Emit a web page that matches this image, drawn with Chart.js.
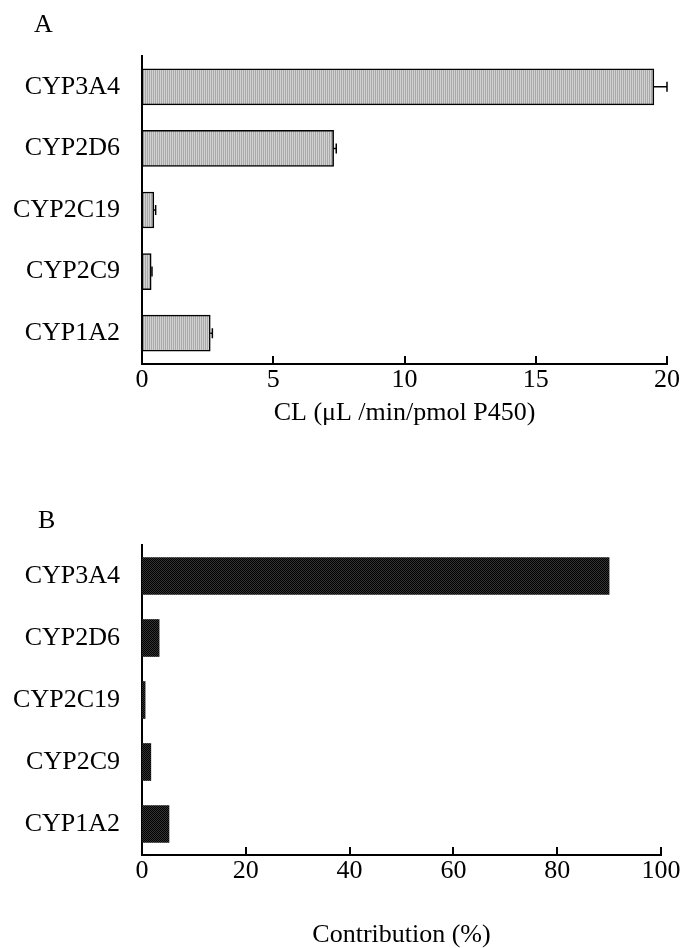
<!DOCTYPE html>
<html>
<head>
<meta charset="utf-8">
<script src="https://cdn.jsdelivr.net/npm/chart.js@4/dist/chart.umd.min.js"></script>
<style>
  html, body { margin: 0; padding: 0; background: #fff; }
  #wrap { position: relative; width: 683px; height: 948px; }
  .panel { position: absolute; left: 0; width: 683px; height: 474px; }
  .letter { position: absolute; font-family: "Liberation Serif", "Times New Roman", serif;
            font-size: 26px; line-height: 26px; color: #000; }
</style>
</head>
<body>
<div id="wrap">
  <div class="panel" style="top:0"><canvas id="chartA" width="683" height="474"></canvas></div>
  <div class="panel" style="top:474px"><canvas id="chartB" width="683" height="474"></canvas></div>
  <div class="letter" style="left:34px;top:11px">A</div>
  <div class="letter" style="left:38px;top:507px">B</div>
</div>
<script>
// Enzymes, top to bottom
const categories = ['CYP3A4', 'CYP2D6', 'CYP2C19', 'CYP2C9', 'CYP1A2'];
// Panel A: intrinsic clearance (µL/min/pmol P450) and its SD
const clValues = [19.5, 7.3, 0.45, 0.35, 2.6];
const clErrors = [0.5, 0.1, 0.07, 0.03, 0.08];
const clTicks = [0, 5, 10, 15, 20];
// Panel B: contribution of each enzyme (%)
const contribValues = [90.0, 3.3, 0.6, 1.7, 5.2];
const contribTicks = [0, 20, 40, 60, 80, 100];

const SERIF = '"Liberation Serif", "Times New Roman", serif';
const FONT = { family: SERIF, size: 26, lineHeight: 1 };

// Hatched fills: fine vertical lines (A) and dense dark stipple (B)
function makePattern(w, h, cells) {
  const c = document.createElement('canvas');
  c.width = w; c.height = h;
  const g = c.getContext('2d');
  cells.forEach(([x, y, col]) => { g.fillStyle = col; g.fillRect(x, y, 1, 1); });
  return g.createPattern(c, 'repeat');
}
const stripeFill = makePattern(2, 1, [[0, 0, '#d2d2d2'], [1, 0, '#a9a9a9']]);
const stippleFill = makePattern(2, 2, [[0, 0, '#000'], [1, 0, '#333'], [0, 1, '#333'], [1, 1, '#000']]);

// Short tick marks pointing into the plot from the x axis
const inwardTicks = {
  id: 'inwardTicks',
  afterDraw(chart) {
    const { ctx, chartArea, scales: { x } } = chart;
    ctx.save();
    ctx.strokeStyle = '#000';
    ctx.lineWidth = 2;
    x.ticks.forEach(t => {
      const px = Math.round(x.getPixelForValue(t.value));
      ctx.beginPath();
      ctx.moveTo(px, chartArea.bottom);
      ctx.lineTo(px, chartArea.bottom - 8);
      ctx.stroke();
    });
    ctx.restore();
  }
};

// Horizontal error bars (one-sided, to the right of each bar)
const errorBars = {
  id: 'errorBars',
  afterDatasetsDraw(chart) {
    const { ctx, scales: { x } } = chart;
    const meta = chart.getDatasetMeta(0);
    ctx.save();
    ctx.strokeStyle = '#000';
    ctx.lineWidth = 1.5;
    meta.data.forEach((bar, i) => {
      const x0 = x.getPixelForValue(clValues[i]);
      const x1 = x.getPixelForValue(clValues[i] + clErrors[i]);
      ctx.beginPath();
      ctx.moveTo(x0, bar.y);
      ctx.lineTo(x1, bar.y);
      ctx.moveTo(x1, bar.y - 5);
      ctx.lineTo(x1, bar.y + 5);
      ctx.stroke();
    });
    ctx.restore();
  }
};

function panel(canvasId, cfg) {
  return new Chart(document.getElementById(canvasId), {
    type: 'bar',
    data: {
      labels: categories,
      datasets: [{
        data: cfg.values,
        backgroundColor: cfg.fill,
        borderColor: '#000',
        borderWidth: cfg.borderWidth,
        borderSkipped: false,
        barThickness: cfg.barThickness
      }]
    },
    options: {
      indexAxis: 'y',
      responsive: false,
      animation: false,
      devicePixelRatio: 1,
      layout: { padding: { top: cfg.top, right: cfg.right, left: 0, bottom: 0 } },
      plugins: { legend: { display: false }, tooltip: { enabled: false } },
      scales: {
        x: {
          type: 'linear',
          min: cfg.ticks[0],
          max: cfg.ticks[cfg.ticks.length - 1],
          afterBuildTicks: s => { s.ticks = cfg.ticks.map(v => ({ value: v })); },
          grid: { display: false, drawTicks: false },
          border: { display: true, color: '#000', width: 2 },
          ticks: { color: '#000', font: FONT, padding: 3, maxRotation: 0 },
          title: { display: true, text: cfg.title, color: '#000', font: FONT,
                   padding: { top: 0, bottom: cfg.titlePad } },
          afterFit: s => { s.height = cfg.xHeight; s.paddingLeft = 0; s.paddingRight = 0; }
        },
        y: {
          type: 'category',
          grid: { display: false, drawTicks: false },
          border: { display: true, color: '#000', width: 2 },
          ticks: { color: '#000', font: FONT, padding: 22 },
          afterFit: s => { s.width = 142; s.paddingTop = 0; s.paddingBottom = 0; }
        }
      }
    },
    plugins: cfg.plugins
  });
}

panel('chartA', {
  values: clValues, ticks: clTicks, fill: stripeFill, borderWidth: 1.5, barThickness: 36,
  top: 56, right: 16, xHeight: 110, titlePad: 48,
  title: 'CL (\u03bcL /min/pmol P450)', plugins: [inwardTicks, errorBars]
});

panel('chartB', {
  values: contribValues, ticks: contribTicks, fill: stippleFill, borderWidth: 0, barThickness: 37,
  top: 71, right: 22, xHeight: 93, titlePad: 0,
  title: 'Contribution (%)', plugins: [inwardTicks]
});
</script>
</body>
</html>
